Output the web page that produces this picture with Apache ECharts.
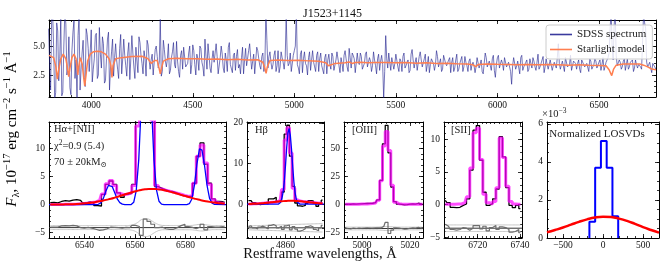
<!DOCTYPE html>
<html><head><meta charset="utf-8">
<script src="https://cdn.jsdelivr.net/npm/echarts@6/dist/echarts.min.js"></script>
<style>html,body{margin:0;padding:0;background:#fff}#c{width:665px;height:275px}</style>
</head><body><div id="c"></div>
<script>
// ---------------- DATA ----------------
// Top panel: SDSS spectrum, two interleaved pixel sets (every 10 A from 3790 and from 3795)
const specStartA = 3790, specStartB = 3795, specStep = 10;
const specFluxA = [
6.5,1.2,7.8,0.4,7.0,2.0,7.5,1.0,8.0,2.5,
5.8,0.8,6.2,2.2,0.4,7.6,3.0,5.5,1.5,6.0,
2.8,6.4,3.0,5.9,2.2,6.6,3.1,5.2,2.0,5.6,
1.2,4.5,2.4,5.2,3.0,4.8,2.6,5.6,3.3,4.4,
2.1,5.9,3.2,4.9,2.7,5.3,3.5,4.6,2.4,5.1,
3.0,4.3,2.6,5.0,3.1,7.4,2.8,4.7,3.2,5.2,
2.9,4.5,3.4,5.4,2.8,4.2,3.0,4.9,3.3,4.4,
2.6,5.1,3.4,4.3,2.9,4.8,3.2,5.6,3.0,4.2,
2.7,4.6,3.5,4.1,2.5,5.0,3.1,4.4,2.8,5.3,
3.3,4.2,2.9,4.7,3.4,4.0,2.6,4.8,3.2,5.2,
3.0,4.3,2.7,4.6,3.3,4.1,2.8,8.0,3.1,4.5,
3.0,4.2,2.8,4.6,3.2,4.0,3.0,7.6,3.3,4.4,
2.9,4.6,8.0,3.1,4.3,2.7,4.5,3.3,4.0,2.9,
4.6,3.2,4.2,2.8,4.4,3.4,4.0,2.6,4.3,3.0,
4.1,2.9,4.5,3.3,4.0,2.8,4.6,3.2,4.8,3.1,
4.2,2.7,4.4,3.4,4.1,2.9,4.3,3.2,4.0,2.8,
4.5,3.3,3.9,2.9,4.2,0.5,5.9,3.1,3.6,4.0,
3.0,4.3,3.2,3.9,2.8,4.4,3.3,3.8,2.9,4.7,
3.1,4.0,3.0,4.5,3.2,3.9,2.8,4.1,3.4,3.8,
2.9,4.6,3.2,3.9,3.0,4.2,3.3,3.8,2.7,4.0,
3.1,4.3,3.0,3.8,2.8,4.1,3.3,3.7,2.9,3.6,
2.7,4.0,3.1,3.8,2.6,4.4,3.2,3.7,2.9,4.2,
2.3,4.0,3.1,3.8,2.9,4.1,3.3,3.6,1.7,4.0,
3.0,3.7,2.6,4.2,3.2,3.6,2.8,3.9,3.1,3.7,
2.9,4.3,3.2,3.6,2.7,3.9,3.0,3.8,2.9,3.6,
3.1,5.2,3.0,3.7,2.8,3.9,3.1,4.2,2.9,3.6,
3.0,3.8,2.7,3.9,3.2,3.5,2.8,3.7,3.0,3.9,
3.1,3.6,2.9,4.0,3.2,3.6,4.4,8.0,3.8,8.0,
3.3,3.8,3.0,3.7,2.9,3.9,3.2,3.6,2.8,3.8,
3.1,3.5,3.0,7.8,6.5,3.2,3.6,2.7,3.4,3.0];
const specFluxB = [
3.5,7.4,4.8,1.0,6.3,3.9,0.7,5.0,6.9,3.0,
1.4,4.6,7.2,3.8,5.9,1.2,4.4,2.3,6.5,4.8,
4.5,1.9,3.9,6.1,2.5,4.3,5.8,1.8,3.9,6.2,
3.2,5.6,4.0,3.8,2.2,6.0,3.9,4.2,2.4,5.3,
3.9,4.4,2.2,3.7,5.8,4.2,2.6,3.9,5.5,3.8,
3.8,2.5,4.7,4.1,3.6,2.4,5.5,3.7,3.9,2.6,
4.0,5.3,3.1,3.7,2.3,4.6,4.9,3.2,3.5,5.0,
3.4,4.6,2.5,3.9,5.0,3.6,2.4,4.1,5.2,3.1,
3.9,3.6,5.2,2.6,4.0,4.3,2.7,3.8,4.9,3.4,
2.7,4.4,4.1,3.1,2.6,4.9,3.8,3.3,4.6,4.0,
3.7,2.6,4.9,3.9,3.0,4.4,3.3,5.5,4.1,3.6,
3.4,4.6,3.3,2.7,4.5,3.6,3.9,4.2,3.5,2.8,
4.2,5.0,3.4,2.6,4.6,3.9,3.5,2.5,4.5,3.8,
3.6,2.8,4.5,3.9,3.3,2.6,4.3,3.8,3.4,4.4,
2.9,3.8,4.6,2.7,3.5,4.2,3.9,2.8,4.0,4.4,
3.9,2.8,3.6,4.4,3.0,3.5,4.5,3.1,3.7,3.3,
3.8,2.6,4.3,3.7,3.4,2.8,3.9,4.4,2.9,3.5,
3.5,4.3,2.8,3.7,4.1,3.1,3.6,2.7,4.3,3.8,
3.6,2.9,4.1,3.8,3.2,4.3,3.4,2.7,3.9,3.5,
3.4,4.1,3.3,2.8,4.2,3.5,3.2,4.0,3.6,2.8,
3.8,2.8,3.5,4.1,3.2,3.6,2.8,3.9,3.4,3.3,
3.2,3.9,3.4,2.8,3.5,4.0,3.1,3.6,3.9,2.9,
3.4,4.2,3.0,3.5,4.0,3.2,3.6,2.8,3.3,3.9,
3.3,3.6,4.0,2.9,3.4,3.8,3.0,3.5,4.0,3.2,
3.6,3.0,3.5,4.1,3.2,3.4,2.9,3.9,3.3,3.6,
4.0,3.5,3.1,3.6,4.0,3.2,3.4,2.9,3.7,3.5,
3.5,3.0,3.8,3.4,3.1,3.6,3.9,3.0,3.4,3.7,
3.2,3.8,3.4,2.9,3.6,4.0,6.5,5.0,6.8,4.2,
3.3,3.6,3.2,3.9,3.4,3.0,3.6,3.8,3.1,3.4,
3.4,3.2,5.5,7.0,3.6,3.4,3.1,3.5,3.2];
const starlightModel = [
[3792,4.2],[3800,4.35],[3815,4.0],[3826,3.2],[3833,2.15],[3840,3.0],[3850,3.9],[3862,4.3],[3875,3.9],
[3884,3.0],[3889,2.35],[3895,3.1],[3905,4.0],[3915,4.3],[3925,3.9],[3931,3.1],[3934,2.5],[3938,3.2],
[3946,4.0],[3955,3.5],[3962,2.4],[3968,1.55],[3973,2.3],[3982,3.7],[3995,4.3],[4010,4.5],[4030,4.55],
[4050,4.5],[4070,4.3],[4088,3.9],[4097,3.3],[4102,2.3],[4107,3.3],[4120,3.9],[4150,4.0],[4200,4.1],
[4250,4.12],[4280,3.9],[4295,3.5],[4304,3.35],[4312,3.75],[4325,3.75],[4334,3.1],[4340,2.6],[4346,3.1],
[4355,3.7],[4380,3.9],[4420,3.95],[4470,3.9],[4520,3.9],[4570,3.85],[4620,3.88],[4670,3.82],[4720,3.85],
[4770,3.8],[4820,3.82],[4845,3.6],[4855,3.1],[4861,2.65],[4867,3.2],[4880,3.75],[4920,3.8],[4970,3.75],
[5020,3.78],[5070,3.72],[5120,3.68],[5155,3.55],[5168,3.3],[5175,3.2],[5185,3.4],[5200,3.5],[5250,3.55],
[5270,3.62],[5285,3.5],[5300,3.58],[5330,3.6],[5360,3.55],[5400,3.58],[5450,3.57],[5500,3.55],[5550,3.58],
[5600,3.52],[5650,3.55],[5700,3.5],[5750,3.52],[5800,3.48],[5850,3.45],[5880,3.38],[5893,3.22],[5905,3.4],
[5950,3.45],[6000,3.42],[6050,3.4],[6100,3.38],[6150,3.4],[6200,3.38],[6250,3.4],[6300,3.38],[6350,3.35],
[6400,3.38],[6450,3.35],[6500,3.33],[6535,3.3],[6550,2.95],[6563,2.45],[6572,3.0],[6585,3.35],[6620,3.45],
[6660,3.45],[6700,3.45],[6720,3.35],[6740,3.2],[6760,3.02],[6781,2.95]];
const topXTicks = [4000,4500,5000,5500,6000,6500];
const topYTicks = [2.5,5.0];

// H-alpha + [NII]
const haWave = [6526.5,6528,6529.5,6531,6532.5,6534,6535.5,6537,6538.5,6540,6541.5,6543,6544.5,6546,6547.5,6549,6550.5,6552,6553.5,6555,6556.5,6558,6559.5,6561,6562.5,6564,6565.5,6567,6568.5,6570,6571.5,6573,6574.5,6576,6577.5,6579,6580.5,6582,6583.5,6585,6586.5,6588,6589.5,6591,6592.5,6594,6595.5];
const haObs = [0.35,0.4,0.3,0.55,0.7,0.6,0.8,0.9,0.75,0.3,0.5,0.2,-0.2,-0.25,1.8,3.6,4.2,3.6,2.1,1.3,1.8,2.0,3.6,15.5,30,40,31,16,3.2,2.9,2.6,2.4,2.3,2.0,1.7,1.6,1.4,1.5,3.8,8.6,11.0,7.2,3.8,1.0,0.55,0.5,0.4];
const haModel = [0.01,0.01,0.02,0.03,0.04,0.05,0.07,0.1,0.14,0.2,0.27,0.36,0.46,0.75,1.9,3.7,4.3,3.4,2.0,1.75,1.88,2.1,3.4,14.0,31,39,31,15,3.4,2.8,2.55,2.39,2.22,2.03,1.83,1.63,1.45,1.6,3.8,8.6,10.6,7.4,3.6,0.9,0.35,0.22,0.16];
const haBroad = [0.01,0.01,0.02,0.03,0.04,0.05,0.07,0.1,0.14,0.2,0.27,0.36,0.46,0.58,0.72,0.88,1.05,1.24,1.44,1.65,1.87,2.08,2.28,2.46,2.61,2.72,2.78,2.79,2.75,2.66,2.54,2.39,2.22,2.03,1.83,1.63,1.43,1.24,1.06,0.89,0.74,0.6,0.48,0.38,0.29,0.22,0.16];
const haNarrow = [[6526,0],[6544,0],[6545.5,0.05],[6546.5,0.3],[6547.5,1.1],[6548.5,2.4],[6549.5,3.4],[6550.2,3.6],[6551,3.2],[6552,2.1],[6553,1.0],[6554,0.35],[6555,0.08],[6556,0],[6558.5,0],[6559.5,0.4],[6560.5,2.5],[6561.5,8],[6562.5,18],[6563.5,30],[6564.5,36],[6565.5,30],[6566.5,18],[6567.5,8],[6568.5,2.6],[6569.5,0.6],[6570.5,0.08],[6571.5,0],[6580.5,0],[6581.5,0.15],[6582.5,1.0],[6583.5,3.4],[6584.5,7.2],[6585.5,9.9],[6586.5,9.7],[6587.5,7.0],[6588.5,3.4],[6589.5,1.1],[6590.5,0.25],[6591.5,0.03],[6596,0]];
const haResid = [0.1,0.1,0.1,0.3,0.35,0.3,0.4,0.3,0.0,-0.1,0.05,-0.1,-0.3,-0.5,-0.4,-0.2,0.1,0.05,0.0,-0.1,0.05,0.0,0.4,0.2,-1.4,1.5,1.1,0.6,0.0,0.1,-0.2,-0.3,-0.3,0.0,0.35,0.6,0.2,0.05,-0.2,0.1,0.6,-0.4,0.2,0.1,0.1,0.2,0.1];
const haErr = [0.35,0.35,0.35,0.35,0.35,0.35,0.35,0.35,0.35,0.35,0.35,0.35,0.35,0.35,0.35,0.35,0.35,0.35,0.35,0.35,0.35,0.4,0.55,0.9,1.4,1.6,1.5,1.1,0.7,0.45,0.38,0.38,0.38,0.38,0.38,0.38,0.38,0.38,0.45,0.55,0.6,0.5,0.42,0.36,0.36,0.36,0.36];
const haXTicks = [6540,6560,6580];
const haYTicks = [-5,0,5,10];

// H-beta
const hbWave = [4844.6,4845.7,4846.8,4847.9,4849.0,4850.1,4851.2,4852.3,4853.4,4854.5,4855.6,4856.7,4857.8,4858.9,4860.0,4861.1,4862.2,4863.3,4864.4,4865.5,4866.6,4867.7,4868.8,4869.9,4871.0,4872.1,4873.2,4874.3,4875.4];
const hbObs = [0.9,0.9,0.4,0.1,-0.1,0.0,0.2,0.1,1.3,1.3,1.7,0.6,1.0,3.0,17.2,19.4,11.8,4.4,0.3,-0.4,-0.5,-0.3,0.2,0.9,0.8,0.2,-0.5,0.1,1.0];
const hbModel = [0.05,0.07,0.1,0.13,0.17,0.22,0.28,0.35,0.42,0.5,0.57,0.66,0.95,3.6,15.8,18.8,12.6,3.9,1.1,0.78,0.7,0.63,0.56,0.48,0.41,0.34,0.27,0.21,0.16];
const hbBroad = [0.05,0.07,0.1,0.13,0.17,0.22,0.28,0.35,0.42,0.5,0.57,0.64,0.71,0.76,0.8,0.83,0.84,0.83,0.8,0.76,0.7,0.63,0.56,0.48,0.41,0.34,0.27,0.21,0.16];
const hbNarrow = [[4844,0],[4857,0],[4857.5,0.15],[4858,0.5],[4858.5,1.4],[4859,3.0],[4859.5,5.6],[4860,9.5],[4860.5,14.0],[4861,17.5],[4861.5,18.6],[4862,17.0],[4862.5,13.5],[4863,9.2],[4863.5,5.4],[4864,2.8],[4864.5,1.2],[4865,0.45],[4865.5,0.15],[4866,0.03],[4866.5,0],[4876,0]];
const hbResid = [0.3,0.5,0.0,-0.3,0.2,0.4,0.1,-0.3,0.6,0.8,0.5,0.0,0.4,-0.4,0.5,0.7,-0.5,0.3,-0.3,-0.8,-0.6,-0.2,0.3,0.5,0.2,-0.4,-0.7,0.0,0.6];
const hbErr = [0.5,0.5,0.52,0.54,0.56,0.58,0.6,0.62,0.64,0.66,0.68,0.7,0.72,0.74,0.76,0.78,0.8,0.82,0.84,0.86,0.88,0.9,0.92,0.94,0.96,0.98,1.0,1.02,1.04];
const hbXTicks = [4860];
const hbYTicks = [0,10,20];

// [OIII]
const o3Wave = [4993.0,4994.15,4995.3,4996.45,4997.6,4998.75,4999.9,5001.05,5002.2,5003.35,5004.5,5005.65,5006.8,5007.95,5009.1,5010.25,5011.4,5012.55,5013.7,5014.85,5016.0,5017.15,5018.3,5019.45,5020.6,5021.75,5022.9,5024.05,5025.2];
const o3Obs = [0.3,0.2,0.1,0.4,0.2,0.5,0.4,0.6,0.8,0.9,1.0,1.6,4.0,21.5,54,70.5,46,15.5,2.5,0.3,0.0,-0.5,-0.3,0.2,0.5,0.3,1.0,0.4,0.0];
const o3Model = [0.1,0.1,0.1,0.15,0.15,0.2,0.25,0.3,0.4,0.5,0.7,1.2,3.6,21,52,65,48,17,2.0,0.5,0.3,0.2,0.15,0.1,0.1,0.1,0.1,0.1,0.1];
const o3Resid = [0.5,0,-0.3,0.4,0,0.3,0.2,0.4,0.5,0.4,0.3,0.6,0.5,0.5,2,5.5,-4.5,-1.5,0.6,0.3,0,-0.6,-0.4,0.2,0.5,0.3,1.0,0.4,0];
const o3Err = [1.2,1.2,1.2,1.2,1.2,1.2,1.2,1.2,1.2,1.2,1.2,1.2,1.3,1.5,1.7,1.8,1.7,1.5,1.3,1.2,1.2,1.2,1.2,1.2,1.2,1.2,1.2,1.2,1.2];
const o3XTicks = [5000,5020];
const o3YTicks = [-25,0,25,50];

// [SII]
const s2Wave = [6704.6,6706.15,6707.7,6709.25,6710.8,6712.35,6713.9,6715.45,6717.0,6718.55,6720.1,6721.65,6723.2,6724.75,6726.3,6727.85,6729.4,6730.95,6732.5,6734.05,6735.6,6737.15,6738.7,6740.25];
const s2Obs = [0.65,0.3,-0.4,-0.45,-0.4,-0.1,0.1,0.9,5.3,11.4,12.1,6.8,1.9,-0.1,0.15,0.9,2.4,10.4,7.3,2.6,-0.1,-0.45,-0.1,-0.6];
const s2Model = [0.05,0.05,0.05,0.05,0.1,0.1,0.3,1.2,5.6,11.0,11.7,6.9,1.6,0.3,0.1,0.5,2.6,10.2,7.2,2.8,0.5,0.1,0.05,0.05];
const s2Resid = [0.6,0.3,-0.2,-0.3,-0.2,0.1,0.0,-0.3,0.0,0.4,0.4,-0.1,0.3,-0.4,0.1,0.4,-0.2,0.2,0.1,-0.2,-0.6,-0.5,-0.2,-0.7];
const s2Err = [0.5,0.5,0.5,0.5,0.5,0.5,0.5,0.5,0.5,0.5,0.5,0.5,0.5,0.5,0.5,0.5,0.5,0.5,0.5,0.5,0.5,0.5,0.5,0.5];
const s2XTicks = [6720,6740];
const s2YTicks = [-5,0,5,10];

// Normalized LOSVDs (x10^-3)
const losvdEdges = [-170,-98,-26,46,118,190];
const losvdHist = [0.85,3.7,5.1,3.7,1.15];
const losvdBroad = [[-700,0.3],[-600,0.42],[-500,0.55],[-400,0.7],[-300,0.85],[-200,0.98],[-100,1.08],[0,1.12],[100,1.1],[200,1.02],[300,0.9],[400,0.74],[500,0.57],[600,0.42],[700,0.28]];
const losvdXTicks = [-500,0,500];
const losvdYTicks = [0,2,4,6];

// ---------------- BUILD ----------------
const FONT = '"Liberation Serif", "DejaVu Serif", serif';
const grids = [], xAxis = [], yAxis = [], series = [];
function ticksBetween(lo, hi, step) {
  const out = [];
  for (let v = Math.ceil(lo / step - 1e-9) * step; v <= hi + 1e-9; v += step) out.push(Math.round(v * 1e6) / 1e6);
  return out;
}
const fmtNum = v => (v < 0 ? '\u2212' + Math.abs(v) : String(v));
function makePanel(rect, xr, yr, xt, yt, xMinStep, yMinStep, xFmt, yFmt, xMargin) {
  const gi = grids.length;
  grids.push({left: rect[0], top: rect[1], width: rect[2], height: rect[3]});
  const xi = xAxis.length, yi = yAxis.length;
  const xMinor = ticksBetween(xr[0], xr[1], xMinStep);
  const yMinor = ticksBetween(yr[0], yr[1], yMinStep);
  const common = {type: 'value', gridIndex: gi, splitLine: {show: false}};
  const line = show => ({show: show, onZero: false, lineStyle: {color: '#000', width: 1}});
  const tick = (vals, len) => ({show: true, inside: true, length: len, customValues: vals, lineStyle: {color: '#000', width: 0.8}});
  const lab = (vals, fmt, m) => ({show: true, customValues: vals, formatter: fmt, margin: m, fontSize: 9.5, color: '#111', fontFamily: FONT});
  ['bottom', 'top'].forEach((pos, k) => {
    xAxis.push(Object.assign({}, common, {min: xr[0], max: xr[1], position: pos, axisLine: line(true), axisTick: tick(xt, 4), axisLabel: k === 0 ? lab(xt, xFmt, xMargin) : {show: false}}));
    xAxis.push(Object.assign({}, common, {min: xr[0], max: xr[1], position: pos, axisLine: line(false), axisTick: tick(xMinor, 2), axisLabel: {show: false}}));
  });
  ['left', 'right'].forEach((pos, k) => {
    yAxis.push(Object.assign({}, common, {min: yr[0], max: yr[1], position: pos, axisLine: line(true), axisTick: tick(yt, 4), axisLabel: k === 0 ? lab(yt, yFmt, 4) : {show: false}}));
    yAxis.push(Object.assign({}, common, {min: yr[0], max: yr[1], position: pos, axisLine: line(false), axisTick: tick(yMinor, 2), axisLabel: {show: false}}));
  });
  return {xi: xi, yi: yi, xr: xr};
}
function addLine(ax, data, style, extra) {
  series.push(Object.assign({type: 'line', xAxisIndex: ax.xi, yAxisIndex: ax.yi, data: data, symbol: 'none', showSymbol: false,
    silent: true, animation: false, clip: true, lineStyle: style}, extra || {}));
}
const zip = (xs, ys) => xs.map((x, i) => [x, ys[i]]);

// top panel
const topAx = makePanel([49, 20, 607, 77], [3792, 6781], [0.6, 7.25], topXTicks, topYTicks, 100, 0.5, fmtNum, v => v.toFixed(1), 3);
const specPts = specFluxA.map((f, i) => [specStartA + specStep * i, f])
  .concat(specFluxB.map((f, i) => [specStartB + specStep * i, f]))
  .sort((a, b) => a[0] - b[0]);
addLine(topAx, specPts, {color: '#23238f', width: 0.8, opacity: 0.78}, {name: 'SDSS spectrum', itemStyle: {color: '#3a3a9e'}, z: 2});
addLine(topAx, starlightModel, {color: '#ff7f50', width: 1.5}, {name: 'Starlight model', itemStyle: {color: '#ff7f50'}, z: 3});

function emissionPanel(ax, wave, obs, model, resid, err, base, narrow, broad) {
  const xr = ax.xr;
  addLine(ax, wave.map((x, i) => [x, base + err[i]]), {color: '#c4c4c4', width: 1}, {smooth: true, z: 1});
  addLine(ax, wave.map((x, i) => [x, base - err[i]]), {color: '#c4c4c4', width: 1}, {smooth: true, z: 1});
  addLine(ax, [[xr[0], base], [xr[1], base]], {color: '#333', width: 1}, {z: 1});
  addLine(ax, wave.map((x, i) => [x, base + resid[i]]), {color: '#6e6e6e', width: 1.2}, {step: 'middle', z: 1});
  addLine(ax, zip(wave, obs), {color: '#000', width: 1.3}, {step: 'middle', z: 2});
  addLine(ax, zip(wave, model), {color: '#ff00ff', width: 3, opacity: 0.7}, {step: 'middle', z: 3});
  if (narrow) addLine(ax, narrow, {color: '#0000ff', width: 1.3}, {z: 4});
  if (broad) addLine(ax, zip(wave, broad), {color: '#ff0000', width: 2}, {smooth: true, z: 5});
}
const haAx = makePanel([49, 122, 177, 116], [6526, 6596], [-5.95, 14.7], haXTicks, haYTicks, 2, 1, fmtNum, fmtNum, 2);
emissionPanel(haAx, haWave, haObs, haModel, haResid, haErr, -4.1, haNarrow, haBroad);
const hbAx = makePanel([247, 122, 77, 116], [4844, 4876], [-8.3, 20.2], hbXTicks, hbYTicks, 2, 2, fmtNum, fmtNum, 2);
emissionPanel(hbAx, hbWave, hbObs, hbModel, hbResid, hbErr, -5.8, hbNarrow, hbBroad);
const o3Ax = makePanel([344, 122, 79, 116], [4992.5, 5025.4], [-30, 73.5], o3XTicks, o3YTicks, 2, 5, fmtNum, fmtNum, 2);
emissionPanel(o3Ax, o3Wave, o3Obs, o3Model, o3Resid, o3Err, -21.5, null, null);
const s2Ax = makePanel([444, 122, 78, 116], [6704, 6741], [-5.1, 12.65], s2XTicks, s2YTicks, 2, 1, fmtNum, fmtNum, 2);
emissionPanel(s2Ax, s2Wave, s2Obs, s2Model, s2Resid, s2Err, -3.6, null, null);

const lvAx = makePanel([547, 122, 112, 116], [-700, 700], [0, 6.1], losvdXTicks, losvdYTicks, 100, 0.5, fmtNum, fmtNum, 2);
const histPts = [[losvdEdges[0], 0]];
losvdHist.forEach((v, i) => { histPts.push([losvdEdges[i], v]); histPts.push([losvdEdges[i + 1], v]); });
histPts.push([losvdEdges[losvdEdges.length - 1], 0]);
addLine(lvAx, histPts, {color: '#0000ff', width: 2}, {z: 3});
addLine(lvAx, losvdBroad, {color: '#ff0000', width: 2.5}, {smooth: true, z: 4});

// ---------------- TEXT ----------------
const rich = {
  n: {fontSize: 15, fontFamily: FONT, lineHeight: 20, fill: '#000'},
  i: {fontSize: 15, fontFamily: FONT, fontStyle: 'italic', lineHeight: 20, fill: '#000'},
  p: {fontSize: 10.5, fontFamily: FONT, lineHeight: 10, verticalAlign: 'top', fill: '#000'},
  b: {fontSize: 10.5, fontFamily: FONT, lineHeight: 10, verticalAlign: 'bottom', fill: '#000'},
  s: {fontSize: 10.5, fontFamily: FONT, lineHeight: 14, fill: '#222'},
  sp: {fontSize: 7.5, fontFamily: FONT, lineHeight: 7, verticalAlign: 'top', fill: '#222'},
  sb: {fontSize: 7.5, fontFamily: FONT, lineHeight: 7, verticalAlign: 'bottom', fill: '#222'}
};
function txt(x, y, text, opts) {
  return Object.assign({type: 'text', x: x, y: y, silent: true, z: 100,
    style: Object.assign({text: text, rich: rich, fontFamily: FONT, fontSize: 10.5, fill: '#222', align: 'left', verticalAlign: 'middle'}, (opts && opts.style) || {})},
    (opts && opts.el) || {});
}
const graphic = [
  txt(12, 129, '{i|F}{b|\u03bb}{n|, 10}{p|\u221217}{n| erg cm}{p|\u22122}{n| s}{p|\u22121}{n| \u00c5}{p|\u22121}', {style: {align: 'center'}, el: {rotation: Math.PI / 2}}),
  txt(320, 254, 'Restframe wavelengths, \u00c5', {style: {align: 'center', fontSize: 14.5, fill: '#111'}}),
  txt(54, 129, 'H\u03b1+[NII]'),
  txt(54, 146, '{s|\u03c7}{sp|2}{s|=0.9 (5.4)}'),
  txt(54, 162, '{s|70 \u00b1 20kM}{sb|\u2299}'),
  txt(255, 130, 'H\u03b2'),
  txt(352, 130, '[OIII]'),
  txt(451, 130, '[SII]'),
  txt(597, 134, 'Normalized LOSVDs', {style: {align: 'center', fontSize: 11}}),
  txt(542, 114, '{s|\u00d710}{sp|\u22123}')
];

const chart = echarts.init(document.getElementById('c'), null, {renderer: 'canvas'});
chart.setOption({
  animation: false,
  backgroundColor: '#fff',
  textStyle: {fontFamily: FONT},
  title: {text: 'J1523+1145', left: 'center', top: 3, textStyle: {fontFamily: FONT, fontSize: 12, fontWeight: 'normal', color: '#111'}},
  legend: {data: ['SDSS spectrum', 'Starlight model'], orient: 'vertical', left: 546, top: 25, icon: 'rect', itemWidth: 22, itemHeight: 1.6, itemGap: 4,
    padding: [4, 6, 4, 4], backgroundColor: 'rgba(255,255,255,0.8)', borderColor: '#cccccc', borderWidth: 1, borderRadius: 3,
    selectedMode: false, textStyle: {fontFamily: FONT, fontSize: 11, color: '#222'}, z: 10},
  grid: grids, xAxis: xAxis, yAxis: yAxis, series: series, graphic: graphic
});
</script></body></html>
